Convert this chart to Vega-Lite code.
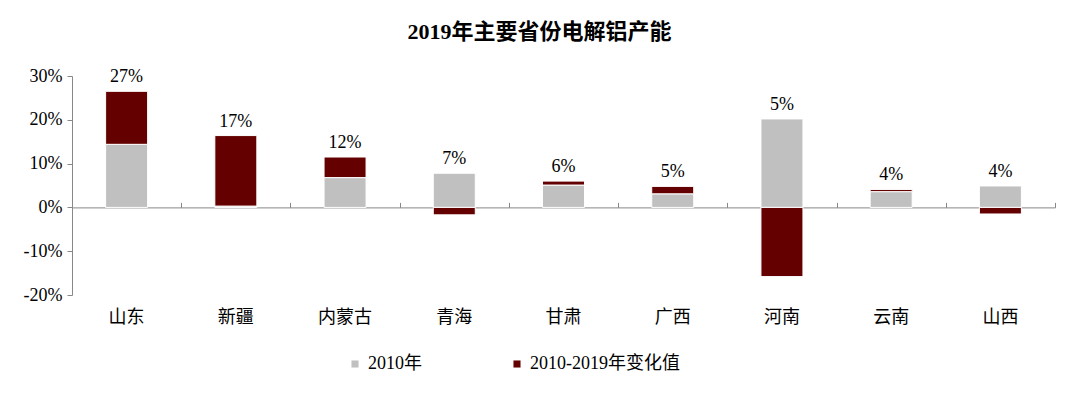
{
  "$schema": "https://vega.github.io/schema/vega-lite/v6.json",
  "width": 983,
  "height": 219,
  "autosize": "none",
  "padding": {"left": 72, "top": 76, "right": 25, "bottom": 98},
  "background": "white",
  "title": {
    "text": "2019年主要省份电解铝产能",
    "font": "'Liberation Serif', 'Noto Sans CJK SC'",
    "fontSize": 22,
    "fontWeight": "bold",
    "color": "#000000",
    "anchor": "middle",
    "dx": -24,
    "offset": 23
  },
  "config": {
    "view": {"stroke": null},
    "font": "'Liberation Serif', 'Noto Sans CJK SC'"
  },
  "datasets": {
    "bars": [
      {"province": "山东", "series": "2010年", "value": 0.144},
      {"province": "山东", "series": "2010-2019年变化值", "value": 0.121},
      {"province": "新疆", "series": "2010年", "value": 0.003},
      {"province": "新疆", "series": "2010-2019年变化值", "value": 0.161},
      {"province": "内蒙古", "series": "2010年", "value": 0.068},
      {"province": "内蒙古", "series": "2010-2019年变化值", "value": 0.047},
      {"province": "青海", "series": "2010年", "value": 0.078},
      {"province": "青海", "series": "2010-2019年变化值", "value": -0.017},
      {"province": "甘肃", "series": "2010年", "value": 0.051},
      {"province": "甘肃", "series": "2010-2019年变化值", "value": 0.009},
      {"province": "广西", "series": "2010年", "value": 0.031},
      {"province": "广西", "series": "2010-2019年变化值", "value": 0.017},
      {"province": "河南", "series": "2010年", "value": 0.202},
      {"province": "河南", "series": "2010-2019年变化值", "value": -0.158},
      {"province": "云南", "series": "2010年", "value": 0.036},
      {"province": "云南", "series": "2010-2019年变化值", "value": 0.005},
      {"province": "山西", "series": "2010年", "value": 0.049},
      {"province": "山西", "series": "2010-2019年变化值", "value": -0.015}
    ],
    "labels": [
      {"province": "山东", "share": "27%"},
      {"province": "新疆", "share": "17%"},
      {"province": "内蒙古", "share": "12%"},
      {"province": "青海", "share": "7%"},
      {"province": "甘肃", "share": "6%"},
      {"province": "广西", "share": "5%"},
      {"province": "河南", "share": "5%"},
      {"province": "云南", "share": "4%"},
      {"province": "山西", "share": "4%"}
    ]
  },
  "data": {"name": "bars"},
  "layer": [
    {
      "mark": {"type": "bar", "size": 42, "stroke": "white", "strokeWidth": 1},
      "encoding": {
        "x": {
          "field": "province",
          "type": "nominal",
          "sort": ["山东", "新疆", "内蒙古", "青海", "甘肃", "广西", "河南", "云南", "山西"],
          "scale": {"paddingInner": 0, "paddingOuter": 0},
          "axis": {
            "title": null,
            "domain": false,
            "ticks": false,
            "labelAngle": 0,
            "labelFont": "'Noto Sans CJK SC'",
            "labelFontSize": 18,
            "labelColor": "#000000",
            "labelPadding": 13
          }
        },
        "y": {
          "field": "value",
          "type": "quantitative",
          "stack": "zero",
          "scale": {"domain": [-0.2, 0.3], "nice": false},
          "axis": {
            "title": null,
            "format": ".0%",
            "labelExpr": "replace(datum.label, '\u2212', '-')",
            "values": [-0.2, -0.1, 0, 0.1, 0.2, 0.3],
            "grid": false,
            "domainColor": "#888888",
            "tickColor": "#888888",
            "tickSize": 5,
            "labelFontSize": 18,
            "labelColor": "#000000",
            "labelPadding": 5
          }
        },
        "color": {
          "field": "series",
          "type": "nominal",
          "scale": {"domain": ["2010年", "2010-2019年变化值"], "range": ["#C0C0C0", "#640000"]},
          "legend": {
            "orient": "none",
            "legendX": 274,
            "legendY": 279,
            "direction": "horizontal",
            "title": null,
            "symbolType": "square",
            "symbolSize": 50,
            "symbolStrokeWidth": 0,
            "labelOffset": 4,
            "labelFontSize": 18,
            "labelColor": "#000000",
            "columnPadding": 86
          }
        },
        "order": {"field": "series", "sort": "descending"}
      }
    },
    {
      "transform": [
        {"filter": "datum.value > 0"},
        {"aggregate": [{"op": "sum", "field": "value", "as": "top"}], "groupby": ["province"]},
        {"lookup": "province", "from": {"data": {"name": "labels"}, "key": "province", "fields": ["share"]}}
      ],
      "mark": {"type": "text", "baseline": "bottom", "dy": -5, "fontSize": 18, "color": "#000000"},
      "encoding": {
        "x": {
          "field": "province",
          "type": "nominal",
          "sort": ["山东", "新疆", "内蒙古", "青海", "甘肃", "广西", "河南", "云南", "山西"],
          "axis": {
            "orient": "top",
            "title": null,
            "labels": false,
            "offset": -131.4,
            "domainColor": "#888888",
            "tickColor": "#888888",
            "tickBand": "extent",
            "tickSize": 5
          }
        },
        "y": {"field": "top", "type": "quantitative"},
        "text": {"field": "share", "type": "nominal"}
      }
    }
  ],
  "resolve": {"axis": {"x": "independent"}}
}
